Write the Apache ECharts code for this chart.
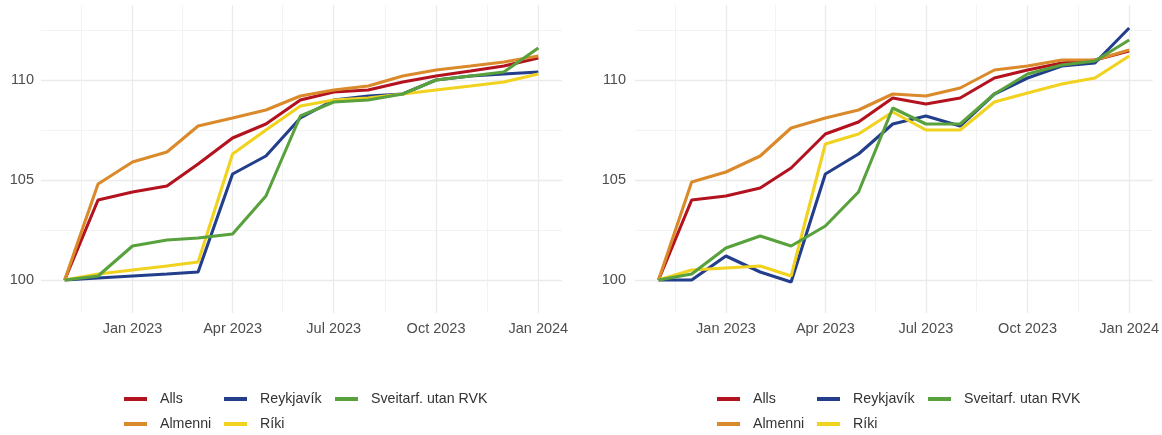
<!DOCTYPE html>
<html>
<head>
<meta charset="utf-8">
<script src="https://cdn.jsdelivr.net/npm/echarts@6/dist/echarts.min.js"></script>
<style>
  html, body { margin: 0; padding: 0; background: #ffffff; }
  #chart { width: 1162px; height: 435px; }
</style>
</head>
<body>
<div id="chart"></div>
<script>
// Monthly index values (Nov 2022 = 100)
const months = ['2022-11-01', '2022-12-01', '2023-01-01', '2023-02-01', '2023-03-01',
  '2023-04-01', '2023-05-01', '2023-06-01', '2023-07-01', '2023-08-01', '2023-09-01',
  '2023-10-01', '2023-11-01', '2023-12-01', '2024-01-01'];

const seriesNames = ['Alls', 'Almenni', 'Reykjavík', 'Ríki', 'Sveitarf. utan RVK'];
const seriesColors = ['#B3121F', '#DA8A2A', '#233F8C', '#F1D21F', '#58A13C'];

// Left panel
const leftAlls      = [100, 104.0, 104.4, 104.7, 105.8, 107.1, 107.8, 109.0, 109.4, 109.5, 109.9, 110.2, 110.45, 110.7, 111.1];
const leftAlmenni   = [100, 104.8, 105.9, 106.4, 107.7, 108.1, 108.5, 109.2, 109.5, 109.7, 110.2, 110.5, 110.7, 110.9, 111.2];
const leftReykjavik = [100, 100.1, 100.2, 100.3, 100.4, 105.3, 106.2, 108.1, 109.0, 109.2, 109.3, 110.0, 110.2, 110.3, 110.4];
const leftRiki      = [100, 100.3, 100.5, 100.7, 100.9, 106.3, 107.5, 108.7, 109.0, 109.1, 109.3, 109.5, 109.7, 109.9, 110.3];
const leftSveitarf  = [100, 100.2, 101.7, 102.0, 102.1, 102.3, 104.2, 108.2, 108.9, 109.0, 109.3, 110.0, 110.2, 110.4, 111.6];

// Right panel
const rightAlls      = [100, 104.0, 104.2, 104.6, 105.6, 107.3, 107.9, 109.1, 108.8, 109.1, 110.1, 110.5, 110.85, 111.0, 111.45];
const rightAlmenni   = [100, 104.9, 105.4, 106.2, 107.6, 108.1, 108.5, 109.3, 109.2, 109.6, 110.5, 110.7, 111.0, 111.0, 111.5];
const rightReykjavik = [100, 100.0, 101.2, 100.4, 99.9, 105.3, 106.3, 107.8, 108.2, 107.7, 109.3, 110.1, 110.7, 110.85, 112.6];
const rightRiki      = [100, 100.5, 100.6, 100.7, 100.2, 106.8, 107.3, 108.4, 107.5, 107.5, 108.9, 109.35, 109.8, 110.1, 111.2];
const rightSveitarf  = [100, 100.3, 101.6, 102.2, 101.7, 102.7, 104.4, 108.6, 107.8, 107.8, 109.3, 110.3, 110.75, 110.95, 112.0];

// Axis ticks
const yMajorTicks = [100, 105, 110];
const yMinorTicks = [102.5, 107.5, 112.5];
const xMajorTicks = ['2023-01-01', '2023-04-01', '2023-07-01', '2023-10-01', '2024-01-01'];
const xMinorTicks = ['2022-11-16', '2023-02-15', '2023-05-16', '2023-08-16', '2023-11-16'];
const monthAbbr = ['Jan', 'Feb', 'Mar', 'Apr', 'May', 'Jun', 'Jul', 'Aug', 'Sep', 'Oct', 'Nov', 'Dec'];

const panels = [
  [leftAlls, leftAlmenni, leftReykjavik, leftRiki, leftSveitarf],
  [rightAlls, rightAlmenni, rightReykjavik, rightRiki, rightSveitarf]
];

// Dates are placed on a numeric axis by their UTC timestamp
function toTime(s) {
  const p = s.split('-').map(Number);
  return Date.UTC(p[0], p[1] - 1, p[2]);
}

const FONT = "'Liberation Sans', Arial, sans-serif";
const tFirst = toTime(months[0]);
const tLast = toTime(months[months.length - 1]);
const xPad = (tLast - tFirst) * 0.05;
const X_MIN = tFirst - xPad;
const X_MAX = tLast + xPad;
const Y_MIN = 98.35;
const Y_MAX = 113.75;

const gridLeft = [41, 635];
const grids = gridLeft.map(l => ({ left: l, top: 5, width: 521, height: 308 }));

const majorLine = { show: true, lineStyle: { color: '#EBEBEB', width: 1.3 } };
const minorLine = { show: true, lineStyle: { color: '#F0F0F0', width: 0.8 } };

const xAxes = [];
const yAxes = [];
grids.forEach((g, gi) => {
  xAxes.push({
    type: 'value', gridIndex: gi, min: X_MIN, max: X_MAX, scale: true,
    axisLine: { show: false },
    axisTick: { show: false, customValues: xMajorTicks.map(toTime) },
    splitLine: majorLine,
    axisLabel: {
      show: true,
      customValues: xMajorTicks.map(toTime),
      margin: 8,
      color: '#4D4D4D', fontSize: 14.5, fontFamily: FONT,
      hideOverlap: false,
      formatter: function (v) {
        const d = new Date(v);
        return monthAbbr[d.getUTCMonth()] + ' ' + d.getUTCFullYear();
      }
    }
  });
  xAxes.push({
    type: 'value', gridIndex: gi, min: X_MIN, max: X_MAX, scale: true, position: 'bottom',
    axisLine: { show: false },
    axisTick: { show: false, customValues: xMinorTicks.map(toTime) },
    axisLabel: { show: false },
    splitLine: minorLine
  });
  yAxes.push({
    type: 'value', gridIndex: gi, min: Y_MIN, max: Y_MAX,
    axisLine: { show: false },
    axisTick: { show: false, customValues: yMajorTicks },
    splitLine: majorLine,
    axisLabel: {
      show: true, customValues: yMajorTicks, margin: gi === 0 ? 7 : 9,
      color: '#4D4D4D', fontSize: 14.5, fontFamily: FONT
    }
  });
  yAxes.push({
    type: 'value', gridIndex: gi, min: Y_MIN, max: Y_MAX, position: 'left',
    axisLine: { show: false },
    axisTick: { show: false, customValues: yMinorTicks },
    axisLabel: { show: false },
    splitLine: minorLine
  });
});

const series = [];
panels.forEach((panel, pi) => {
  panel.forEach((vals, si) => {
    series.push({
      type: 'line',
      name: seriesNames[si],
      xAxisIndex: pi * 2,
      yAxisIndex: pi * 2,
      data: months.map((m, i) => [toTime(m), vals[i]]),
      showSymbol: false,
      symbol: 'none',
      color: seriesColors[si],
      lineStyle: { width: 3.1, color: seriesColors[si] },
      z: 2 + si
    });
  });
});

// Legend: two rows, three columns under each panel
const legendSlots = [
  { name: 'Alls', col: 0, row: 0 },
  { name: 'Almenni', col: 0, row: 1 },
  { name: 'Reykjavík', col: 1, row: 0 },
  { name: 'Ríki', col: 1, row: 1 },
  { name: 'Sveitarf. utan RVK', col: 2, row: 0 }
];
const legendColX = [124, 224, 335];
const legendRowTop = [390, 415];
const panelOffset = [0, 593];
const legends = [];
panelOffset.forEach(off => {
  legendSlots.forEach(s => {
    legends.push({
      data: [s.name],
      left: legendColX[s.col] + off,
      top: legendRowTop[s.row],
      padding: 0,
      icon: 'rect',
      itemWidth: 23,
      itemHeight: 4,
      textStyle: {
        fontSize: 14.2, color: '#333333', fontFamily: FONT,
        lineHeight: 18, padding: [0, 0, 0, 8]
      }
    });
  });
});

const chart = echarts.init(document.getElementById('chart'), null, { renderer: 'canvas' });
chart.setOption({
  animation: false,
  backgroundColor: '#ffffff',
  textStyle: { fontFamily: FONT },
  grid: grids,
  xAxis: xAxes,
  yAxis: yAxes,
  legend: legends,
  series: series
});
</script>
</body>
</html>
